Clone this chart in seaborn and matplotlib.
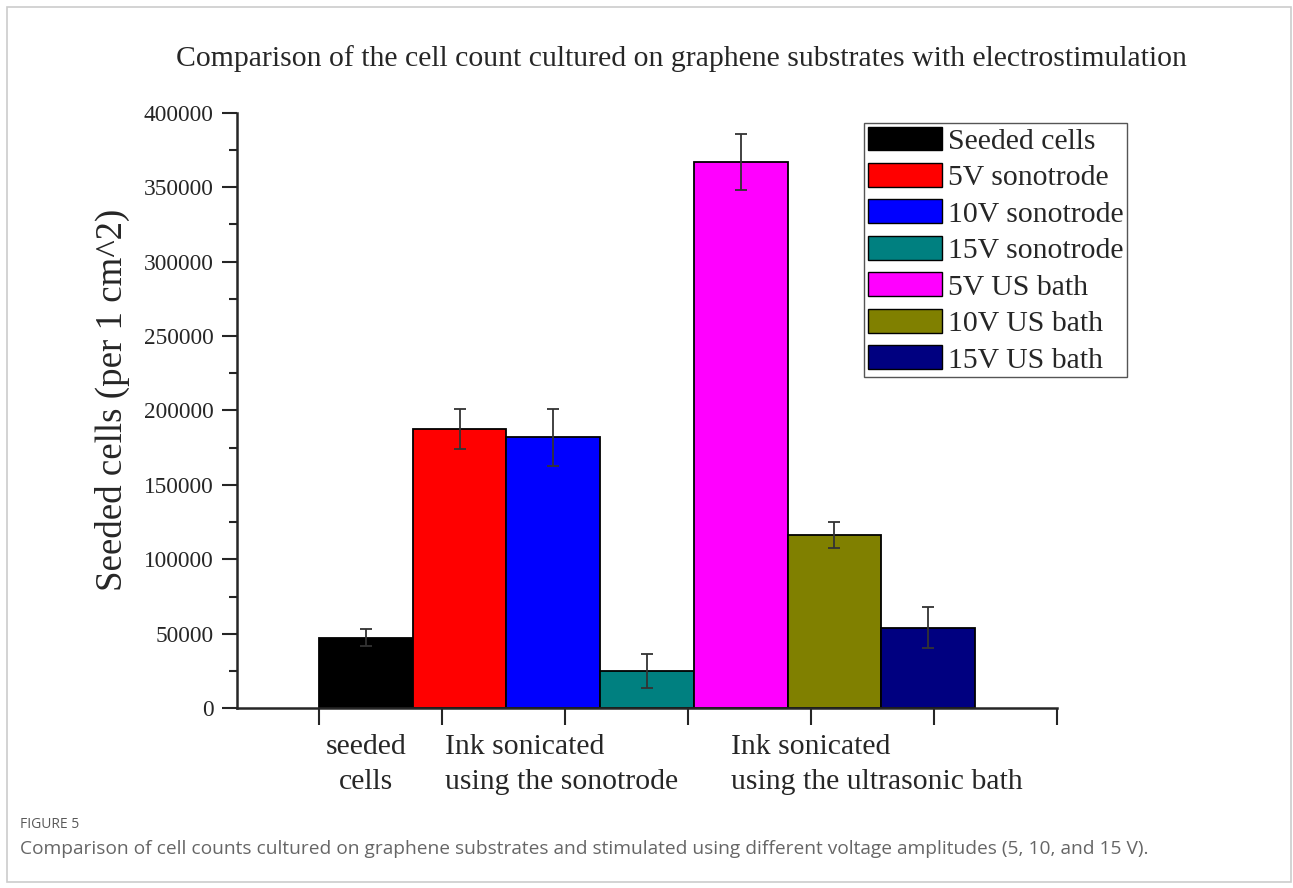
import numpy as np
import pandas as pd
import matplotlib
matplotlib.use('Agg')
import matplotlib.pyplot as plt
import seaborn as sns
from matplotlib.patches import Patch, Rectangle
from matplotlib.ticker import MultipleLocator
import matplotlib.transforms as mtransforms

# data
conditions = ['Seeded cells', '5V sonotrode', '10V sonotrode', '15V sonotrode',
              '5V US bath', '10V US bath', '15V US bath']
cell_means = [47300, 187800, 182000, 25100, 366900, 116400, 54100]
cell_errs = [5800, 13400, 19000, 11400, 19000, 8800, 13600]
bar_colors = ['#000000', '#ff0000', '#0000ff', '#008080', '#ff00ff', '#808000', '#000080']
group_labels = ['seeded\ncells', 'Ink sonicated\nusing the sonotrode',
                'Ink sonicated\nusing the ultrasonic bath']

df = pd.DataFrame({'condition': conditions, 'cells': cell_means})

sns.set_style('ticks')
plt.rcParams['font.family'] = ['Liberation Serif', 'DejaVu Serif']

fig = plt.figure(figsize=(12.93, 8.88), dpi=100)
ax = fig.add_axes([0.1833, 0.2024, 0.6342, 0.6707])

sns.barplot(data=df, x='condition', y='cells', hue='condition', order=conditions,
            hue_order=conditions, palette=bar_colors, width=1, edgecolor='black',
            linewidth=1.3, errorbar=None, legend=False, saturation=1, ax=ax)
ax.errorbar(np.arange(len(conditions)), cell_means, yerr=cell_errs, fmt='none',
            ecolor='#333333', elinewidth=1.3, capsize=4.3, capthick=1.3, zorder=5)

# axes
ax.set_ylim(0, 400000)
ax.yaxis.set_major_locator(MultipleLocator(50000))
ax.yaxis.set_minor_locator(MultipleLocator(25000))
step = 1.3127
ax.set_xticks([-0.5 + k * step for k in range(7)])
ax.set_xticklabels([])
ax.set_xlim(-1.375, -0.5 + 6 * step)
ax.set_xlabel('')
ax.set_ylabel('Seeded cells (per 1 cm^2)', fontsize=26.6)
ax.yaxis.set_label_coords(-0.13, 0.517)
ax.tick_params(axis='y', which='major', length=11, width=1.5, labelsize=16.8, pad=6)
ax.tick_params(axis='y', which='minor', length=6, width=1.5)
ax.tick_params(axis='x', which='major', length=12, width=1.5)
for s in ['top', 'right']:
    ax.spines[s].set_visible(False)
for s in ['left', 'bottom']:
    ax.spines[s].set_linewidth(1.8)

# group labels under the axis
trans = mtransforms.blended_transform_factory(ax.transData, ax.transAxes)
for xpos, lab, ha in [(0, group_labels[0], 'center'),
                      (0.845, group_labels[1], 'left'),
                      (3.897, group_labels[2], 'left')]:
    ax.text(xpos, -0.043, lab, transform=trans, ha=ha, va='top',
            fontsize=21.4, linespacing=1.45)

# legend
handles = [Patch(facecolor=c, edgecolor='black', linewidth=1) for c in bar_colors]
leg = fig.legend(handles, conditions, loc='upper left',
                 bbox_to_anchor=(864 / 1293, 1 - 123 / 888), fontsize=21.4,
                 frameon=True, fancybox=False, framealpha=1, edgecolor='#555555',
                 handlelength=2.5, handleheight=0.85, handletextpad=0.2,
                 labelspacing=0.28, borderpad=0.12, borderaxespad=0)
leg.get_frame().set_linewidth(1.0)

fig.text(0.527, 0.934, 'Comparison of the cell count cultured on graphene substrates with electrostimulation',
         ha='center', va='center', fontsize=21.4)

# caption
fig.text(20 / 1293, 1 - 824 / 888, 'FIGURE 5', ha='left', va='center', fontsize=10,
         color='#595959', family=['Open Sans', 'DejaVu Sans'])
fig.text(20 / 1293, 1 - 849 / 888,
         'Comparison of cell counts cultured on graphene substrates and stimulated using different voltage amplitudes (5, 10, and 15 V).',
         ha='left', va='center', fontsize=13.75, color='#666666',
         family=['Open Sans', 'DejaVu Sans'])

fig.add_artist(Rectangle((7 / 1293, 1 - 882 / 888), (1291 - 7) / 1293, (882 - 7) / 888,
                         transform=fig.transFigure, fill=False, edgecolor='#cccccc',
                         linewidth=1.2))

fig.savefig('out.png', dpi=100)
